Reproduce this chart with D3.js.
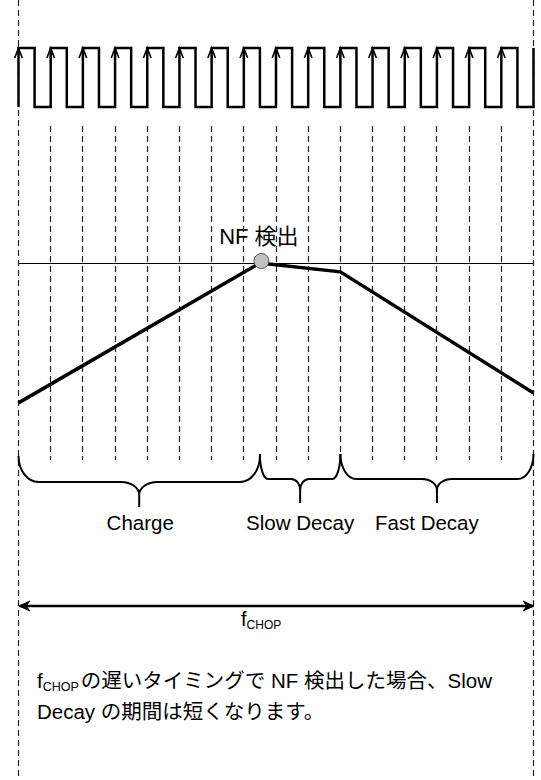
<!DOCTYPE html>
<html>
<head>
<meta charset="utf-8">
<script src="https://cdn.jsdelivr.net/npm/d3@7"></script>
<style>
  html, body { margin: 0; padding: 0; background: #fff; }
  svg { display: block; }
  text { font-family: "Liberation Sans", Arial, "Noto Sans CJK JP", sans-serif; fill: #000; }
</style>
</head>
<body>
<svg id="chart" width="541" height="780"></svg>
<script>
// ---- data ----
const risingEdges = [0, 1, 2, 3, 4, 5, 6, 7, 8, 9, 10, 11, 12, 13, 14, 15, 16];
const fallingEdges = [0.5, 1.5, 2.5, 3.5, 4.5, 5.5, 6.5, 7.5, 8.5, 9.5, 10.5, 11.5, 12.5, 13.5, 14.5, 15.5];
const currentT = [0, 7.5, 10, 16];
const currentV = [0.29, 1.0, 0.955, 0.34];
const threshold = 1.0;
const peakT = 7.5;
const phaseLabels = ["Charge", "Slow Decay", "Fast Decay"];
const phaseStart = [0, 7.5, 10];
const phaseEnd = [7.5, 10, 16];
const peakLabel = "NF 検出";
const periodLabelMain = "f";
const periodLabelSub = "CHOP";
const noteLine1 = ["の遅いタイミングで NF 検出した場合、Slow"];
const noteLine2 = "Decay の期間は短くなります。";

// ---- layout ----
const svg = d3.select("#chart");
const x = d3.scaleLinear().domain([0, 16]).range([18.5, 533.5]);
const y = d3.scaleLinear().domain([0, 1]).range([460, 263]);
const crisp = v => Math.round(v - 0.5) + 0.5;
const clockHigh = 48, clockLow = 107;

// dashed verticals
risingEdges.forEach((t, i) => {
  const outer = (i === 0 || i === risingEdges.length - 1);
  svg.append("line")
    .attr("x1", crisp(x(t))).attr("x2", crisp(x(t)))
    .attr("y1", outer ? 0 : 126).attr("y2", outer ? 780 : 460)
    .attr("stroke", "#222").attr("stroke-width", 1.2)
    .attr("stroke-dasharray", "6,4");
});

// clock waveform
let pts = [[x(0), clockLow]];
risingEdges.forEach((t, i) => {
  pts.push([x(t), clockLow]);
  pts.push([x(t), clockHigh]);
  if (i < fallingEdges.length) {
    pts.push([x(fallingEdges[i]), clockHigh]);
    pts.push([x(fallingEdges[i]), clockLow]);
  }
});
svg.append("path")
  .attr("d", d3.line()(pts))
  .attr("fill", "none").attr("stroke", "#000").attr("stroke-width", 2.5)
  .attr("stroke-linejoin", "miter");

// arrowheads on rising edges (all except last)
risingEdges.slice(0, -1).forEach(t => {
  const cx = x(t);
  svg.append("path")
    .attr("d", `M${cx - 3.8},${clockHigh + 10} L${cx},${clockHigh} L${cx + 3.8},${clockHigh + 10}`)
    .attr("fill", "none").attr("stroke", "#000").attr("stroke-width", 1.6);
});

// threshold line
svg.append("line")
  .attr("x1", x(0)).attr("x2", x(16))
  .attr("y1", crisp(y(threshold))).attr("y2", crisp(y(threshold)))
  .attr("stroke", "#000").attr("stroke-width", 1);

// current waveform
svg.append("path")
  .attr("d", d3.line().x((d, i) => x(currentT[i])).y(d => y(d))(currentV))
  .attr("fill", "none").attr("stroke", "#000").attr("stroke-width", 3.5)
  .attr("stroke-linejoin", "miter");

// peak marker
svg.append("circle")
  .attr("cx", x(peakT) + 1.5).attr("cy", y(threshold) - 2)
  .attr("r", 7.5)
  .attr("fill", "#c0c0c0").attr("stroke", "#555").attr("stroke-width", 1);

svg.append("text")
  .attr("x", x(peakT) - 1).attr("y", 244)
  .attr("text-anchor", "middle")
  .attr("font-size", 22)
  .text(peakLabel);

// braces
function brace(x1, x2, yTop, yMid, yCusp, rx, rx2, ry2) {
  const xc = (x1 + x2) / 2;
  const k = 0.552;
  return `M${x1},${yTop}` +
    ` C${x1},${yTop + k * (yMid - yTop)} ${x1 + rx * (1 - k)},${yMid} ${x1 + rx},${yMid}` +
    ` L${xc - rx2},${yMid}` +
    ` C${xc - rx2 * (1 - k)},${yMid} ${xc},${yMid + ry2 * (1 - k)} ${xc},${yMid + ry2}` +
    ` L${xc},${yCusp}` +
    ` M${xc},${yMid + ry2}` +
    ` C${xc},${yMid + ry2 * (1 - k)} ${xc + rx2 * (1 - k)},${yMid} ${xc + rx2},${yMid}` +
    ` L${x2 - rx},${yMid}` +
    ` C${x2 - rx * (1 - k)},${yMid} ${x2},${yTop + k * (yMid - yTop)} ${x2},${yTop}`;
}
const braceStyle = [
  { yTop: 456, yMid: 482, yCusp: 507, rx: 20, rx2: 18, ry2: 13 },
  { yTop: 454, yMid: 479, yCusp: 503, rx: 8, rx2: 9, ry2: 11 },
  { yTop: 454, yMid: 479, yCusp: 503, rx: 16, rx2: 15, ry2: 11 }
];
const labelDx = [1, 0, -10];
phaseLabels.forEach((lab, i) => {
  const s = braceStyle[i];
  const x1 = x(phaseStart[i]), x2 = x(phaseEnd[i]);
  svg.append("path")
    .attr("d", brace(x1, x2, s.yTop, s.yMid, s.yCusp, s.rx, s.rx2, s.ry2))
    .attr("fill", "none").attr("stroke", "#000").attr("stroke-width", 2);
  svg.append("text")
    .attr("x", (x1 + x2) / 2 + labelDx[i]).attr("y", 530)
    .attr("text-anchor", "middle")
    .attr("font-size", 20.5)
    .text(lab);
});

// period arrow
const arrowY = 606;
svg.append("line")
  .attr("x1", x(0) + 1).attr("x2", x(16) - 0)
  .attr("y1", arrowY).attr("y2", arrowY)
  .attr("stroke", "#000").attr("stroke-width", 2.5);
[[x(0) + 0.5, 1], [x(16) + 0.5, -1]].forEach(([ax, dir]) => {
  svg.append("path")
    .attr("d", `M${ax + dir * 11},${arrowY - 5} L${ax},${arrowY} L${ax + dir * 11},${arrowY + 5} L${ax + dir * 7},${arrowY} Z`)
    .attr("fill", "#000").attr("stroke", "#000").attr("stroke-width", 1)
    .attr("stroke-linejoin", "miter");
});
const pl = svg.append("text").attr("x", 241).attr("y", 626).attr("font-size", 20);
pl.append("tspan").text(periodLabelMain);
pl.append("tspan").attr("font-size", 12).attr("dy", 3).text(periodLabelSub);

// note text
const n1 = svg.append("text").attr("x", 37).attr("y", 688).attr("font-size", 20.5);
n1.append("tspan").text(periodLabelMain);
n1.append("tspan").attr("font-size", 12.5).attr("dy", 3).text(periodLabelSub);
n1.append("tspan").attr("dy", -3).attr("dx", 2).text(noteLine1[0]);
svg.append("text").attr("x", 37).attr("y", 719).attr("font-size", 20.5).text(noteLine2);
</script>
</body>
</html>
